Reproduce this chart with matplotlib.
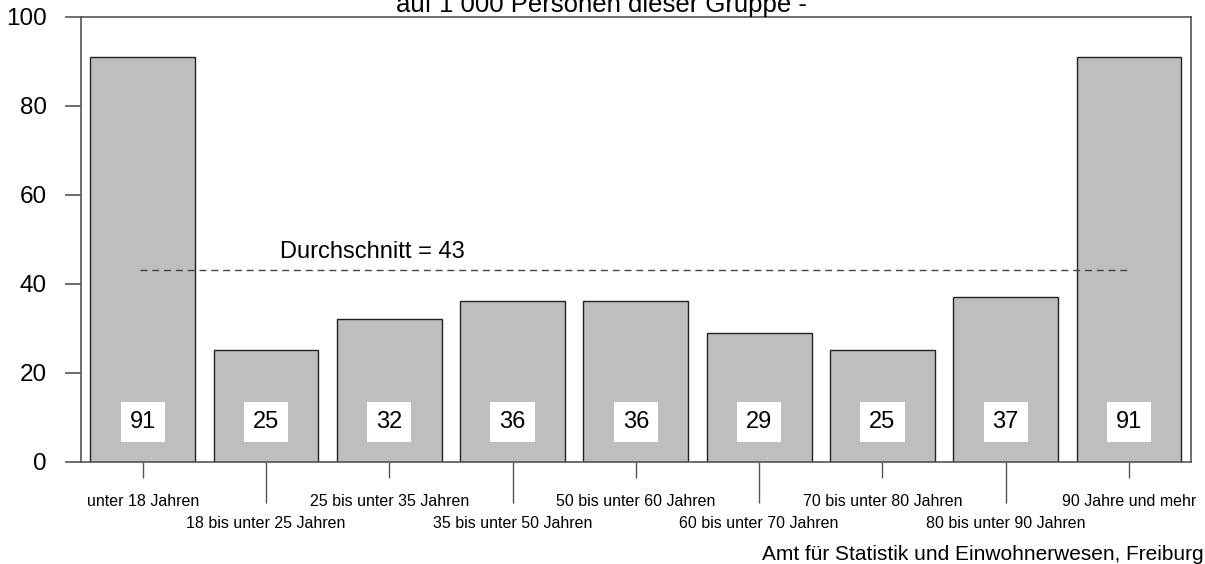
import matplotlib
matplotlib.use("Agg")
import matplotlib.pyplot as plt
from matplotlib.ticker import FixedLocator, FixedFormatter

plt.rcParams['font.family'] = ['Liberation Sans', 'DejaVu Sans']

categories = [
    "unter 18 Jahren",
    "18 bis unter 25 Jahren",
    "25 bis unter 35 Jahren",
    "35 bis unter 50 Jahren",
    "50 bis unter 60 Jahren",
    "60 bis unter 70 Jahren",
    "70 bis unter 80 Jahren",
    "80 bis unter 90 Jahren",
    "90 Jahre und mehr",
]
values = [91, 25, 32, 36, 36, 29, 25, 37, 91]
average = 43
y_ticks = [0, 20, 40, 60, 80, 100]
title = "auf 1 000 Personen dieser Gruppe -"
avg_label = f"Durchschnitt = {average}"
source = "Amt für Statistik und Einwohnerwesen, Freiburg"

W, H = 1205, 564
fig = plt.figure(figsize=(W / 100, H / 100), dpi=100)
ax = fig.add_axes([81 / W, 1 - 461.5 / H, (1190.7 - 81) / W, (461.5 - 16.7) / H])

x = list(range(len(values)))
ax.bar(x, values, width=0.85, color='#bebebe', edgecolor='#222222',
       linewidth=1, zorder=2)
ax.set_xlim(-0.5, len(values) - 0.5)
ax.set_ylim(0, 100)

ax.hlines(average, x[0] - 0.02, x[-1], colors='#444444',
          linestyles=(0, (5, 3.5)), linewidth=1, zorder=3)
ax.text(1.11, 47.2, avg_label, fontsize=17, va='center', ha='left')

for xi, v in zip(x, values):
    ax.text(xi, 8.9, str(v), ha='center', va='center', fontsize=17,
            bbox=dict(boxstyle='square,pad=0.38', fc='white', ec='none'),
            zorder=4)

# x ticks: alternating rows
ax.xaxis.set_major_locator(FixedLocator(x[0::2]))
ax.xaxis.set_major_formatter(FixedFormatter(categories[0::2]))
ax.xaxis.set_minor_locator(FixedLocator(x[1::2]))
ax.xaxis.set_minor_formatter(FixedFormatter(categories[1::2]))
ax.tick_params(axis='x', which='major', length=11.5, pad=11.7,
               labelsize=11.5, color='#555555', width=1)
ax.tick_params(axis='x', which='minor', length=29.5, pad=9.8,
               labelsize=11.5, color='#555555', width=1)

ax.set_yticks(y_ticks)
ax.set_yticklabels([str(t) for t in y_ticks])
ax.tick_params(axis='y', length=11.5, pad=13, labelsize=17.5,
               color='#555555', width=1.2)

for s in ax.spines.values():
    s.set_color('#555555')
    s.set_linewidth(1.2)

fig.text(0.499, (H - 12) / H, title, fontsize=18.5, ha='center', va='baseline')
fig.text(0.999, 4 / H, source, fontsize=15, ha='right', va='baseline')

fig.savefig("out.png", dpi=100)
